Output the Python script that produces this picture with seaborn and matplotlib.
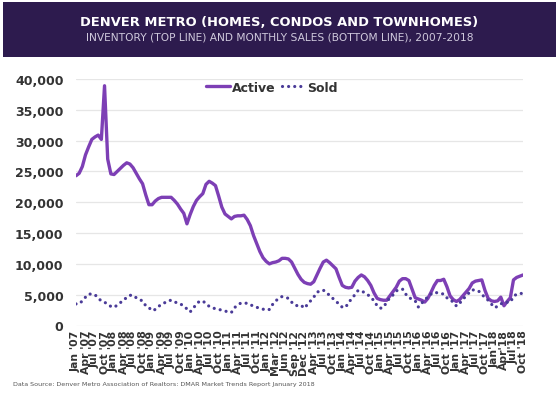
import numpy as np
import pandas as pd
import matplotlib
matplotlib.use("Agg")
import matplotlib.pyplot as plt
import seaborn as sns
from matplotlib.patches import Rectangle

tick_labels = ["Jan '07", "Apr '07", "Jul '07", "Oct '07", "Jan '08", "Apr '08", "Jul '08", "Oct '08",
               "Jan '09", "Apr '09", "Jul '09", "Oct '09", "Jan '10", "Apr '10", "Jul '10", "Oct '10",
               "Jan '11", "Apr '11", "Jul '11", "Oct '11", "Jan '12", "Mar '12", "Jun '12", "Sep '12",
               "Dec '12", "Apr '13", "Jul '13", "Oct '13", "Jan '14", "Apr '14", "Jul '14", "Oct '14",
               "Jan '15", "Apr '15", "Jul '15", "Oct '15", "Jan '16", "Apr '16", "Jul '16", "Oct '16",
               "Jan '17", "Apr '17", "Jul '17", "Oct '17", "Jan'18", "Apr'18", "Jul'18", "Oct '18"]

active = [24300, 24700, 25800, 27700, 29000, 30200, 30600, 30900, 30200, 38900,
          27000, 24600, 24500, 25000, 25500, 26000, 26400, 26200, 25600, 24700,
          23800, 23000, 21200, 19600, 19600, 20200, 20600, 20800, 20800, 20800,
          20800, 20300, 19700, 18900, 18200, 16500, 18000, 19300, 20300, 20900,
          21400, 22900, 23400, 23100, 22700, 21000, 19200, 18100, 17700, 17300,
          17700, 17800, 17800, 17900, 17200, 16200, 14600, 13300, 12000, 11000,
          10400, 10000, 10200, 10300, 10500, 10900, 10900, 10800, 10300, 9300,
          8300, 7500, 7000, 6800, 6700, 7100, 8200, 9300, 10300, 10600,
          10200, 9700, 9200, 7800, 6500, 6200, 6100, 6200, 7200, 7800,
          8200, 7900, 7300, 6500, 5300, 4400, 4200, 4100, 4100, 4800,
          5500, 6200, 7200, 7600, 7600, 7300, 5900, 4500, 4300, 4100,
          3800, 4400, 5400, 6500, 7300, 7300, 7500, 6300, 4800, 4200,
          3900, 4200, 4800, 5400, 6000, 6900, 7200, 7300, 7400, 5700,
          4400, 4000, 3900, 4000, 4600, 3200, 3900, 4500, 7400, 7800,
          8000, 8200]

sold = [3500, 3500, 4000, 4600, 5100, 5100, 5000, 4400, 4000, 3800,
        3400, 3100, 2950, 3300, 3700, 4200, 4500, 4900, 4900, 4500,
        4200, 4000, 3200, 2900, 2400, 2600, 3100, 3400, 3700, 4000,
        4100, 3800, 3700, 3500, 3100, 2700, 2200, 2800, 3500, 3950,
        3950, 3600, 3100, 2900, 2700, 2600, 2500, 2350, 2200, 2100,
        2900, 3300, 3650, 3650, 3600, 3400, 3100, 2950, 2800, 2650,
        2500, 2600, 3400, 4000, 4400, 4700, 4600, 4400, 3800, 3300,
        3200, 3300, 2800, 3400, 4000, 4600, 5400, 5600, 5750, 5300,
        4900, 4400, 3900, 3500, 2950, 2950, 3700, 4400, 5000, 5700,
        5600, 5350, 5000, 4600, 4000, 3200, 2800, 2950, 3800, 4500,
        4950, 5600, 5850, 5900, 5100, 4500, 4300, 4000, 3000, 3600,
        4100, 4700, 5100, 5400, 5300, 5200, 5100, 4500, 4100, 3850,
        3150, 3600, 4200, 4800, 5300, 5800, 5700, 5600, 5000, 4600,
        4100, 3500, 2900, 3100, 3500, 3750, 3770, 3770, 4700, 5100,
        5200, 5200]

n = len(active)
df = pd.DataFrame({"month": np.arange(n), "Active": active, "Sold": sold})

sns.set_theme(style="white")
plt.rcParams['font.family'] = ['DejaVu Sans']

fig = plt.figure(figsize=(5.59, 4.02), dpi=100)
fig.patch.set_facecolor("white")
ax = fig.add_axes([76/559, 1-326.5/402, (523-76)/559, (326.5-80)/402])

sns.lineplot(data=df, x="month", y="Active", ax=ax, color="#7d3fb5", linewidth=2.4,
             label="Active", solid_joinstyle="round", solid_capstyle="round")
sns.lineplot(data=df, x="month", y="Sold", ax=ax, color="#4a3b98", linewidth=2.3,
             label="Sold", dash_capstyle="round")
ax.lines[1].set_dashes([0.01, 1.9])
ax.lines[1].set_dash_capstyle("round")

ax.set_xlim(0, n - 1)
ax.set_ylim(0, 40000)
ax.set_yticks(np.arange(0, 40001, 5000))
ax.set_yticklabels([f"{v:,}" for v in range(0, 40001, 5000)], fontsize=9,
                   fontweight="bold", color="#333333")
ax.set_xticks(np.arange(0, n, 3)[:len(tick_labels)])
ax.set_xticklabels(tick_labels, rotation=90, fontsize=7.8, fontweight="bold", color="#333333")
ax.tick_params(axis="both", length=0, pad=3)
ax.tick_params(axis="y", pad=9)
ax.set_xlabel("")
ax.set_ylabel("")
ax.grid(axis="y", color="#e6e6e6", linewidth=0.9)
ax.set_axisbelow(True)
for s in ax.spines.values():
    s.set_visible(False)

leg = ax.legend(loc="center", bbox_to_anchor=((272-76)/447, (326.5-88)/246.5), ncol=2,
                frameon=False, handlelength=1.9, handletextpad=0.15, columnspacing=0.5,
                prop={"weight": "bold", "size": 9})
for t in leg.get_texts():
    t.set_color("#333333")
hl = leg.get_lines()
hl[1].set_dashes([0.01, 1.9])
hl[1].set_dash_capstyle("round")

# title band
fig.patches.append(Rectangle((3/559, 1-58/402), 553/559, 55/402, transform=fig.transFigure,
                             facecolor="#2d1b4e", edgecolor="none", zorder=0))
fig.text(0.5, 1-22/402, "DENVER METRO (HOMES, CONDOS AND TOWNHOMES)", ha="center", va="center",
         color="white", fontsize=9.4, fontweight="bold")
fig.text(0.5, 1-38/402, "INVENTORY (TOP LINE) AND MONTHLY SALES (BOTTOM LINE), 2007-2018",
         ha="center", va="center", color="#cfc9dc", fontsize=7.7)
fig.text(13/559, 1-385/402,
         "Data Source: Denver Metro Association of Realtors: DMAR Market Trends Report January 2018",
         ha="left", va="center", color="#555555", fontsize=4.6)

fig.savefig("out.png", dpi=100)
